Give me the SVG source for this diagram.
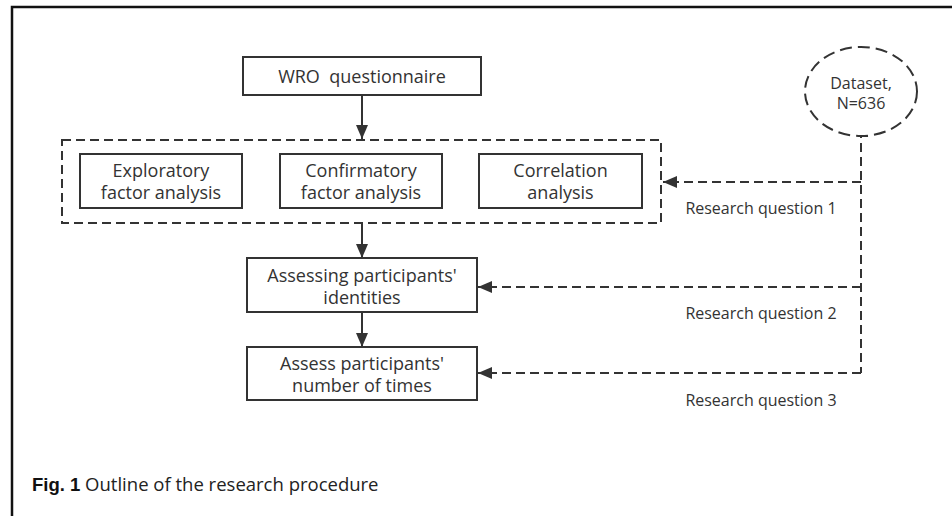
<svg xmlns="http://www.w3.org/2000/svg" width="952" height="516" viewBox="0 0 952 516">
<style>
.box{fill:#fff;stroke:#333;stroke-width:2}
.t{font-family:"Open Sans","Noto Sans",sans-serif;font-size:18px;fill:#333;text-anchor:middle}
.lbl{font-family:"Open Sans","Noto Sans",sans-serif;font-size:16px;fill:#333;text-anchor:middle}
.solid{stroke:#333;stroke-width:2;fill:none}
.dash{stroke:#333;stroke-width:2;fill:none;stroke-dasharray:9 5}
</style>
<defs>
<marker id="ah" viewBox="0 0 14 12" refX="14" refY="6" markerWidth="14" markerHeight="12" markerUnits="userSpaceOnUse" orient="auto">
<path d="M0,0 L14,6 L0,12 Z" fill="#333"/>
</marker>
</defs>
<rect width="952" height="516" fill="#fff"/>
<g id="frame">
<path d="M12,516 V7 H952" stroke="#111" stroke-width="2.5" fill="none"/>
</g>
<g id="connectors">
<line class="solid" x1="362" y1="95" x2="362" y2="139" marker-end="url(#ah)"/>
<line class="solid" x1="362" y1="223" x2="362" y2="258" marker-end="url(#ah)"/>
<line class="solid" x1="362" y1="312" x2="362" y2="347" marker-end="url(#ah)"/>
<path class="dash" d="M868,136 H861 V373"/>
<line class="dash" x1="861" y1="182" x2="663" y2="182" marker-end="url(#ah)"/>
<line class="dash" x1="861" y1="287" x2="478" y2="287" marker-end="url(#ah)"/>
<line class="dash" x1="861" y1="373" x2="478" y2="373" marker-end="url(#ah)"/>
</g>
<g id="wro">
<rect class="box" x="243" y="57" width="238" height="38"/>
<text class="t" x="362" y="82.5" xml:space="preserve">WRO  questionnaire</text>
</g>
<g id="analysis-group">
<rect x="62" y="140" width="599" height="83" fill="none" stroke="#333" stroke-width="2" stroke-dasharray="9 5"/>
</g>
<g id="efa">
<rect class="box" x="80" y="154" width="162" height="54"/>
<text class="t" x="161" y="177">Exploratory</text>
<text class="t" x="161" y="199">factor analysis</text>
</g>
<g id="cfa">
<rect class="box" x="280" y="154" width="162" height="54"/>
<text class="t" x="361" y="177">Confirmatory</text>
<text class="t" x="361" y="199">factor analysis</text>
</g>
<g id="corr">
<rect class="box" x="479" y="154" width="163" height="54"/>
<text class="t" x="560.5" y="177">Correlation</text>
<text class="t" x="560.5" y="199">analysis</text>
</g>
<g id="identities">
<rect class="box" x="247" y="258" width="230" height="54"/>
<text class="t" x="362" y="281.5">Assessing participants'</text>
<text class="t" x="362" y="303.5">identities</text>
</g>
<g id="times">
<rect class="box" x="247" y="347" width="230" height="53"/>
<text class="t" x="362" y="369.5">Assess participants'</text>
<text class="t" x="362" y="391.5">number of times</text>
</g>
<g id="dataset">
<ellipse cx="861" cy="91.5" rx="56" ry="44.5" fill="#fff" stroke="#333" stroke-width="2" stroke-dasharray="12 6"/>
<text class="lbl" x="861" y="89">Dataset,</text>
<text class="lbl" x="861" y="109">N=636</text>
</g>
<g id="labels">
<text class="lbl" x="761" y="213.5">Research question 1</text>
<text class="lbl" x="761" y="318.5">Research question 2</text>
<text class="lbl" x="761" y="405.5">Research question 3</text>
</g>
<g id="caption">
<text x="32" y="491" font-family="'Open Sans','Noto Sans',sans-serif" font-size="18.5" fill="#222"><tspan font-family="'Liberation Sans',Arial,sans-serif" font-weight="bold" fill="#111">Fig. 1</tspan> Outline of the research procedure</text>
</g>
</svg>
